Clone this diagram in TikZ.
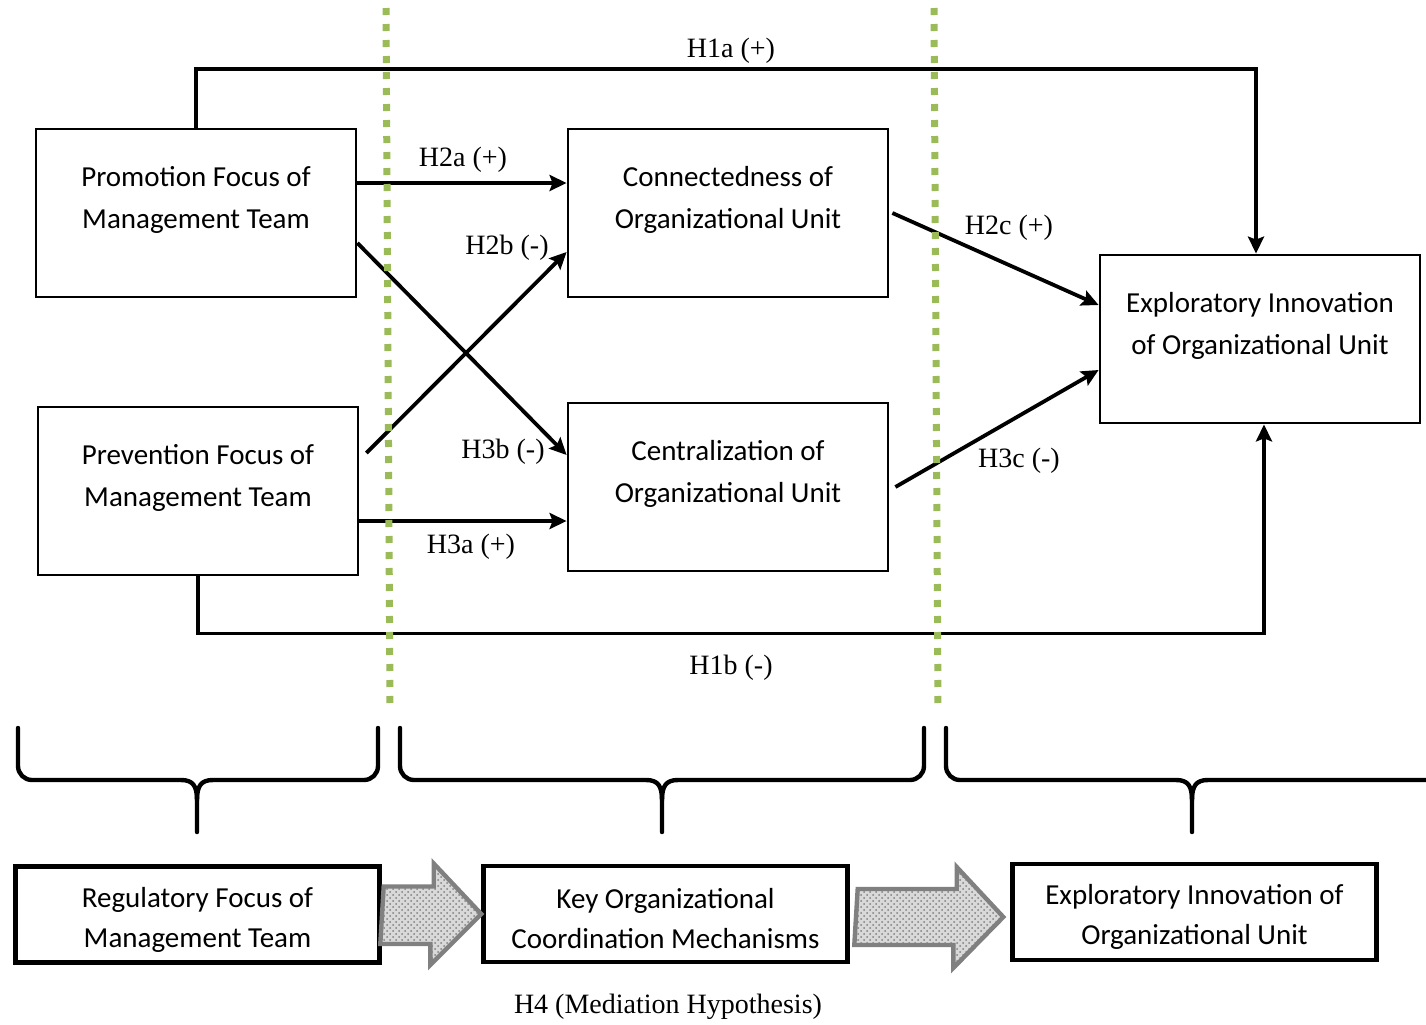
\documentclass[tikz,border=0pt]{standalone}
\usepackage{fontspec}
\setmainfont{Liberation Serif}
\newfontfamily\boxfont{Carlito}
\usetikzlibrary{arrows.meta,patterns,calc}
\definecolor{sepgreen}{HTML}{9BBB59}

\begin{document}
\begin{tikzpicture}[x=0.5pt, y=-0.5pt,
  box/.style={draw,line width=1.4pt,minimum width=160pt,minimum height=84pt,align=center,text depth=16pt,font=\boxfont\fontsize{14.5}{21}\selectfont},
  sumbox/.style={draw,line width=2.2pt,minimum width=182pt,minimum height=48pt,align=center,text height=35pt,font=\boxfont\fontsize{14.5}{20}\selectfont},
  hyp/.style={line width=1.9pt,-{Stealth[length=8.5pt,width=8pt,inset=1.5pt]}},
  lbl/.style={font=\fontsize{14}{16}\selectfont},
  sep/.style={line width=3.5pt,color=sepgreen,dash pattern=on 3.5pt off 4.5pt},
  brace/.style={line width=2.2pt,line cap=round,line join=round},
  bigarrow/.style={draw=gray,line width=2.2pt,line join=miter,preaction={fill=gray!30},pattern=crosshatch dots,pattern color=gray}]
    \useasboundingbox (0,0) rectangle (1426,1024);

    % model boxes
    \node[box] (pf) at (196,213) {Promotion Focus of\\Management Team};
    \node[box] (pv) at (198,491) {Prevention Focus of\\Management Team};
    \node[box] (cn) at (728,213) {Connectedness of\\Organizational Unit};
    \node[box] (cz) at (728,487) {Centralization of\\Organizational Unit};
    \node[box] (ei) at (1260,339) {Exploratory Innovation\\of Organizational Unit};

    % hypotheses
    \draw[hyp] (pf.north) -- ++(0,-59) -| ([xshift=-2pt]ei.north);
    \draw[hyp] (pv.south) -- ++(0,57) -| ([xshift=2pt]ei.south);
    \draw[hyp] ([yshift=15pt]pf.east) -- ([yshift=15pt]pf.east -| cn.west);
    \draw[hyp] ([yshift=-15pt]pv.east) -- ([yshift=-15pt]pv.east -| cz.west);
    \draw[hyp] ([xshift=3.5pt,yshift=19pt]pv.east) -- ([yshift=-19.5pt]cn.west);
    \draw[hyp] ([yshift=-15pt]pf.east) -- ([yshift=16pt]cz.west);
    \draw[hyp] ([xshift=1.5pt]cn.east) -- ([yshift=17pt]ei.west);
    \draw[hyp] ([xshift=3pt]cz.east) -- ([yshift=-15.5pt]ei.west);

    \node[lbl] (h1a) at (731,51) {H1a (+)};
    \node[lbl] (h1b) at (731,668) {H1b (-)};
    \node[lbl] (h2a) at (463,160) {H2a (+)};
    \node[lbl] (h2b) at (507,248) {H2b (-)};
    \node[lbl] (h3b) at (503,452) {H3b (-)};
    \node[lbl] (h3a) at (471,547) {H3a (+)};
    \node[lbl] (h2c) at (1009,228) {H2c (+)};
    \node[lbl] (h3c) at (1019,461) {H3c (-)};

    % stage separators
    \draw[sep] (386,8) -- (390,705);
    \draw[sep] (934,8) -- (938,705);

    % braces
    \foreach \xa/\xc/\xb in {18/197/378,400/662/924,946/1192/1460}{
      \draw[brace] (\xa,728) -- (\xa,766) to[out=-90,in=180] (\xa+14,780) -- (\xc-16,780)
        .. controls (\xc-4,780) and (\xc,786) .. (\xc,800) -- (\xc,832);
      \draw[brace] (\xc,800) .. controls (\xc,786) and (\xc+4,780) .. (\xc+16,780)
        -- (\xb-14,780) to[out=0,in=-90] (\xb,766) -- (\xb,728);
    }

    % summary
    \node[sumbox] (rf) at (197.5,914.5) {Regulatory Focus of\\Management Team};
    \node[sumbox] (ko) at (665.5,914) {Key Organizational\\Coordination Mechanisms};
    \node[sumbox] (eb) at (1194.5,912) {Exploratory Innovation of\\Organizational Unit};

    \draw[bigarrow] (rf.east) ++(2,-28) -- ++(50,0) -- ++(0,-23) -- (ko.west)
      -- ++(-51,51) -- ++(0,-21) -- ++(-50,0) -- cycle;
    \draw[bigarrow] (ko.east) ++(8,-25) -- ++(99,0) -- ++(0,-22) -- ([xshift=-3.5pt,yshift=-2.5pt]eb.west)
      -- ++(-50,51) -- ++(0,-23) -- ++(-99,0) -- cycle;

    \node[lbl] (h4) at (668,1007) {H4 (Mediation Hypothesis)};
\end{tikzpicture}
\end{document}
